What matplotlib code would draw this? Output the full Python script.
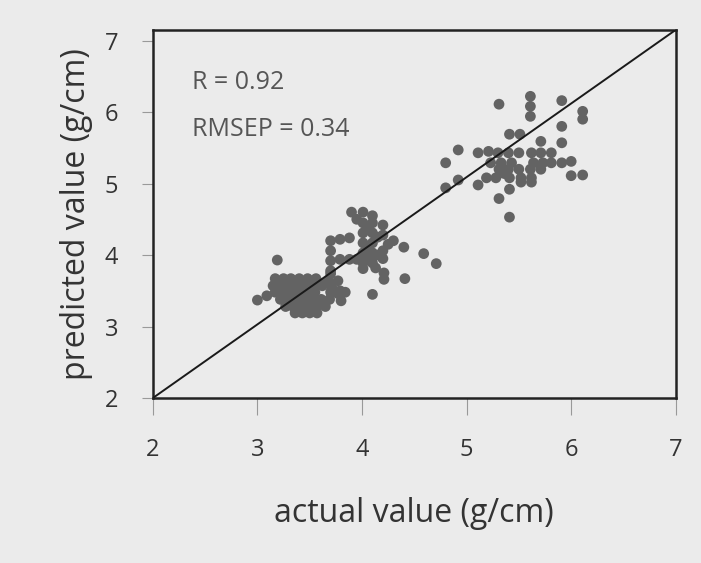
import matplotlib
matplotlib.use('Agg')
from matplotlib import pyplot as plt
import numpy as np

# values (actual, predicted), three clusters
low_actual = [3.00, 3.09, 3.19,
              3.17, 3.25, 3.32, 3.40, 3.48, 3.56,
              3.15, 3.23, 3.30, 3.38, 3.46, 3.54, 3.62,
              3.17, 3.25, 3.32, 3.40, 3.48, 3.55, 3.70, 3.79,
              3.22, 3.30, 3.38, 3.46, 3.53, 3.61, 3.69,
              3.27, 3.34, 3.42, 3.50, 3.57, 3.65,
              3.36, 3.43, 3.50, 3.57,
              3.70, 3.77, 3.62, 3.71, 3.84, 3.77, 3.80]
low_pred = [3.37, 3.43, 3.93,
            3.67, 3.67, 3.67, 3.67, 3.67, 3.67,
            3.57, 3.57, 3.57, 3.57, 3.57, 3.57, 3.57,
            3.48, 3.48, 3.48, 3.48, 3.48, 3.48, 3.48, 3.48,
            3.38, 3.38, 3.38, 3.38, 3.38, 3.38, 3.38,
            3.28, 3.28, 3.28, 3.28, 3.28, 3.28,
            3.19, 3.19, 3.19, 3.19,
            3.74, 3.64, 3.60, 3.55, 3.48, 3.46, 3.36]

mid_actual = [3.90, 4.01,
              4.01, 4.01, 4.01, 4.01, 4.01, 4.01,
              4.10, 4.10, 4.10, 4.10, 4.10, 4.10,
              4.20, 4.20, 4.20, 4.20, 4.21, 4.21,
              3.70, 3.70, 3.70, 3.70,
              3.79, 3.88, 3.79, 3.88, 3.95,
              4.30, 4.40, 4.59, 4.71, 4.41, 4.10, 3.68, 3.79,
              3.95, 4.05, 4.06, 4.15, 4.25, 4.15, 4.05, 4.13]
mid_pred = [4.60, 4.60,
            4.45, 4.31, 4.17, 4.03, 3.89, 3.81,
            4.45, 4.31, 4.17, 4.03, 3.89, 4.55,
            4.42, 4.28, 4.06, 3.95, 3.75, 3.66,
            4.20, 4.06, 3.92, 3.78,
            4.22, 4.24, 3.94, 3.94, 3.94,
            4.20, 4.11, 4.02, 3.88, 3.67, 3.45, 3.64, 3.50,
            4.50, 4.38, 4.10, 4.00, 4.15, 4.25, 3.98, 3.82]

high_actual = [5.31, 5.61, 5.61, 5.61, 5.91, 6.11, 6.11, 5.91, 5.91, 5.71,
               5.41, 5.51, 4.92, 4.80, 4.80, 4.92, 5.11, 5.21, 6.00, 6.00,
               6.11, 5.31, 5.41, 5.11, 5.41,
               5.30, 5.40, 5.50, 5.62, 5.71, 5.81,
               5.23, 5.33, 5.43, 5.64, 5.73, 5.81, 5.91,
               5.31, 5.40, 5.50, 5.61, 5.71,
               5.19, 5.28, 5.41, 5.52, 5.62,
               5.36, 5.52, 5.62]
high_pred = [6.11, 6.22, 6.08, 5.94, 6.16, 6.01, 5.90, 5.80, 5.57, 5.59,
             5.69, 5.69, 5.47, 5.29, 4.94, 5.05, 5.43, 5.45, 5.31, 5.11,
             5.12, 4.79, 4.53, 4.98, 4.92,
             5.43, 5.43, 5.43, 5.43, 5.43, 5.43,
             5.29, 5.29, 5.29, 5.29, 5.29, 5.29, 5.29,
             5.20, 5.20, 5.20, 5.20, 5.20,
             5.08, 5.08, 5.08, 5.08, 5.08,
             5.14, 5.02, 5.02]

ticks = [2, 3, 4, 5, 6, 7]
r_text = 'R = 0.92'
rmsep_text = 'RMSEP = 0.34'

actual = np.array(low_actual + mid_actual + high_actual)
predicted = np.array(low_pred + mid_pred + high_pred)

plt.rcParams['font.family'] = ['Open Sans', 'DejaVu Sans']
bg = '#ebebeb'

fig = plt.figure(figsize=(7.01, 5.63), dpi=100, facecolor=bg)
ax = fig.add_axes([0.218, 0.293, 0.746, 0.654], facecolor=bg)

ax.scatter(actual, predicted, s=60, color='#636363', edgecolors='none', zorder=3)
# 1:1 line, corner to corner
ax.plot([0, 1], [0, 1], transform=ax.transAxes, color='#1a1a1a', lw=1.4, zorder=4)

ax.set_xlim(2, 7)
ax.set_ylim(2, 7.15)
ax.set_xticks(ticks)
ax.set_yticks(ticks)
ax.tick_params(axis='x', length=12, width=0.8, color='#999999', pad=17, labelsize=17, labelcolor='#333333')
ax.tick_params(axis='y', length=8, width=0.8, color='#999999', pad=17, labelsize=17, labelcolor='#333333')
for s in ax.spines.values():
    s.set_linewidth(1.8)
    s.set_color('#222222')

ax.set_xlabel('actual value (g/cm)', fontsize=23, color='#333333', labelpad=25)
ax.set_ylabel('predicted value (g/cm)', fontsize=23, color='#333333', labelpad=8)

ax.text(2.37, 6.42, r_text, fontsize=18, color='#555555', ha='left', va='center')
ax.text(2.37, 5.76, rmsep_text, fontsize=18, color='#555555', ha='left', va='center')

fig.savefig('out.png', dpi=100, facecolor=bg)
